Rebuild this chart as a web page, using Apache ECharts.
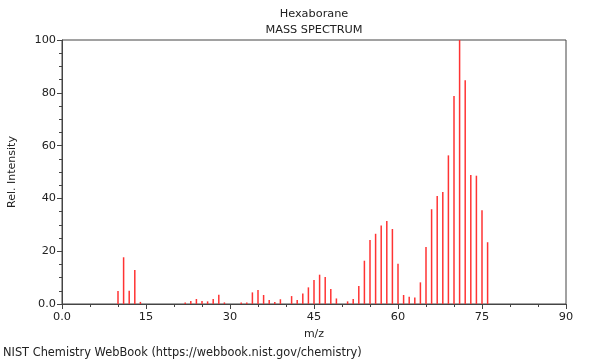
<!DOCTYPE html>
<html>
<head>
<meta charset="utf-8">
<script src="https://cdn.jsdelivr.net/npm/echarts@6/dist/echarts.min.js"></script>
<style>html,body{margin:0;padding:0;background:#fff;}#c{width:600px;height:360px;}</style>
</head>
<body>
<div id="c"></div>
<script>
var mz = [10,11,12,13,14,22,23,24,25,26,27,28,29,32,33,34,35,36,37,38,39,41,42,43,44,45,46,47,48,49,51,52,53,54,55,56,57,58,59,60,61,62,63,64,65,66,67,68,69,70,71,72,73,74,75,76];
var intensity = [4.9,17.7,5.0,12.9,0.8,0.6,1.1,1.9,1.1,1.0,1.9,3.5,0.6,0.6,0.6,4.4,5.3,3.4,1.5,0.8,1.8,3.0,1.5,4.0,6.3,9.1,11.1,10.2,5.7,2.1,1.0,1.9,6.8,16.4,24.2,26.6,29.7,31.4,28.4,15.2,3.4,2.7,2.5,8.2,21.6,35.9,40.9,42.4,56.3,78.8,100,84.8,48.9,48.6,35.5,23.4];
var xTicks = [0,15,30,45,60,75,90];
var yTicks = [0,20,40,60,80,100];
var titleText = 'Hexaborane';
var subtitleText = 'MASS SPECTRUM';
var footerText = 'NIST Chemistry WebBook (https://webbook.nist.gov/chemistry)';

var FONT = '"DejaVu Sans", sans-serif';
var chart = echarts.init(document.getElementById('c'), null, {renderer: 'canvas'});
var data = mz.map(function (m, i) { return [m, intensity[i]]; });
function fmt(v) { return v === 0 ? '0.0' : String(v); }
var axisCol = '#444';
chart.setOption({
  animation: false,
  backgroundColor: '#fff',
  grid: {left: 62, right: 34, top: 40, bottom: 56, show: true, borderColor: axisCol, borderWidth: 1, containLabel: false, outerBoundsMode: 'none'},
  xAxis: {
    type: 'value', min: xTicks[0], max: xTicks[xTicks.length - 1], interval: 15,
    name: 'm/z', nameLocation: 'middle', nameGap: 25,
    nameTextStyle: {fontFamily: FONT, fontSize: 11, color: '#222'},
    axisLine: {lineStyle: {color: axisCol}},
    axisTick: {length: 5, lineStyle: {color: axisCol}},
    minorTick: {show: true, splitNumber: 3, length: 3, lineStyle: {color: axisCol}},
    splitLine: {show: false},
    axisLabel: {formatter: fmt, fontFamily: FONT, fontSize: 11.3, color: '#222', margin: 8}
  },
  yAxis: {
    type: 'value', min: yTicks[0], max: yTicks[yTicks.length - 1], interval: 20,
    name: 'Rel. Intensity', nameLocation: 'middle', nameGap: 44,
    nameTextStyle: {fontFamily: FONT, fontSize: 11, color: '#222'},
    axisLine: {show: true, lineStyle: {color: axisCol}},
    axisTick: {show: true, length: 5, lineStyle: {color: axisCol}},
    minorTick: {show: true, splitNumber: 4, length: 3, lineStyle: {color: axisCol}},
    splitLine: {show: false},
    axisLabel: {formatter: fmt, fontFamily: FONT, fontSize: 11.3, color: '#222', margin: 6}
  },
  series: [{
    type: 'bar', data: data, barWidth: 1.5,
    itemStyle: {color: '#ff3333'}, silent: true
  }],
  graphic: [
    {type: 'text', x: 314, y: 14, style: {text: titleText, font: '11.3px ' + FONT, fill: '#222', textAlign: 'center', textVerticalAlign: 'middle'}},
    {type: 'text', x: 314, y: 30, style: {text: subtitleText, font: '11.3px ' + FONT, fill: '#222', textAlign: 'center', textVerticalAlign: 'middle'}},
    {type: 'text', x: 3, y: 353, style: {text: footerText, font: '11.4px ' + FONT, fill: '#222', textAlign: 'left', textVerticalAlign: 'middle'}}
  ]
});
</script>
</body>
</html>
